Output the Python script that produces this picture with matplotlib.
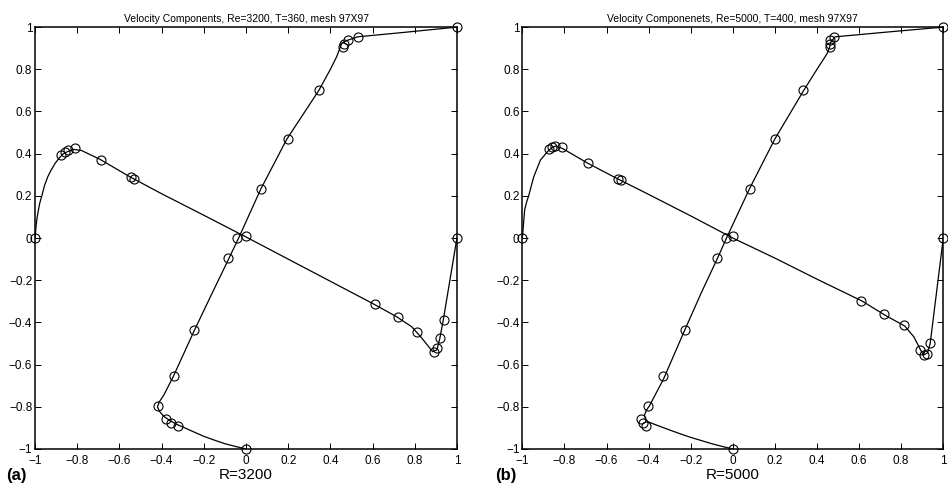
import matplotlib
matplotlib.use("Agg")
import matplotlib.pyplot as plt

plt.rcParams['font.family'] = ['Liberation Sans', 'DejaVu Sans']

# Ghia et al. reference points (centre-line positions mapped to [-1, 1])
ghia_y = [1.0, 0.9532, 0.9376, 0.9218, 0.9062, 0.7032, 0.4688, 0.2344, 0.0,
          -0.0938, -0.4374, -0.6562, -0.7968, -0.8594, -0.875, -0.8906, -1.0]
ghia_u_3200 = [1.0, 0.53236, 0.48296, 0.46547, 0.46101, 0.34682, 0.19791, 0.07156, -0.04272,
               -0.08664, -0.24427, -0.34323, -0.41933, -0.37827, -0.35344, -0.32407, 0.0]
ghia_u_5000 = [1.0, 0.48223, 0.46120, 0.45992, 0.46036, 0.33556, 0.20087, 0.08183, -0.03039,
               -0.07404, -0.22855, -0.33050, -0.40435, -0.43643, -0.42901, -0.41165, 0.0]

ghia_x = [1.0, 0.9376, 0.9218, 0.9062, 0.8906, 0.8126, 0.7188, 0.6094, 0.0,
          -0.5312, -0.5468, -0.6874, -0.8124, -0.8438, -0.8594, -0.875, -1.0]
ghia_v_3200 = [0.0, -0.39017, -0.47425, -0.52357, -0.54053, -0.44307, -0.37401, -0.31184, 0.00999,
               0.28188, 0.29030, 0.37119, 0.42768, 0.41906, 0.40917, 0.39560, 0.0]
ghia_v_5000 = [0.0, -0.49774, -0.55069, -0.55408, -0.52876, -0.41442, -0.36214, -0.30018, 0.00945,
               0.27280, 0.28066, 0.35368, 0.42951, 0.43648, 0.43329, 0.42447, 0.0]

# computed solution
u_3200 = [0.0, -0.05, -0.1, -0.15, -0.2, -0.25, -0.29, -0.32, -0.36, -0.39, -0.41, -0.42, -0.41,
          -0.39, -0.345, -0.246, -0.16, -0.085, -0.035, 0.07, 0.193, 0.346, 0.40, 0.43, 0.445,
          0.455, 0.477, 0.53, 0.75, 1.0]
uy_3200 = [-1.0, -0.988, -0.975, -0.958, -0.94, -0.918, -0.9, -0.887, -0.866, -0.845, -0.822, -0.8,
           -0.775, -0.745, -0.657, -0.44, -0.26, -0.105, 0.0, 0.232, 0.468, 0.701, 0.80, 0.86, 0.90,
           0.925, 0.936, 0.954, 0.975, 1.0]
vx_3200 = [-1.0, -0.995, -0.99, -0.984, -0.978, -0.968, -0.955, -0.94, -0.925, -0.905, -0.885,
           -0.866, -0.845, -0.818, -0.78, -0.692, -0.55, -0.4, -0.2,
           0.0, 0.2, 0.4, 0.6, 0.714, 0.785, 0.83, 0.885, 0.905, 0.919, 0.935, 1.0]
v_3200 = [0.0, 0.06, 0.10, 0.133, 0.165, 0.2, 0.25, 0.29, 0.32, 0.354, 0.38,
          0.40, 0.41, 0.42, 0.415, 0.373, 0.29, 0.21, 0.108,
          0.005, -0.10, -0.205, -0.31, -0.373, -0.42, -0.47, -0.539, -0.53, -0.475, -0.39, 0.0]

u_5000 = [0.0, -0.05, -0.1, -0.15, -0.2, -0.25, -0.3, -0.34, -0.38, -0.405, -0.415, -0.42, -0.41,
          -0.397, -0.33, -0.23, -0.15, -0.07, -0.03, 0.08, 0.2, 0.337, 0.40, 0.448, 0.46, 0.465,
          0.487, 0.75, 1.0]
uy_5000 = [-1.0, -0.988, -0.975, -0.96, -0.945, -0.928, -0.91, -0.895, -0.88, -0.87, -0.86, -0.84,
           -0.815, -0.797, -0.67, -0.44, -0.26, -0.09, 0.0, 0.235, 0.47, 0.70, 0.80, 0.874, 0.905,
           0.93, 0.954, 0.978, 1.0]
vx_5000 = [-1.0, -0.995, -0.989, -0.98, -0.97, -0.946, -0.93, -0.914, -0.88, -0.86, -0.843,
           -0.81, -0.688, -0.542, -0.416, -0.2,
           0.0, 0.2, 0.4, 0.615, 0.722, 0.817, 0.86, 0.905, 0.925, 0.938, 1.0]
v_5000 = [0.0, 0.06, 0.133, 0.17, 0.2, 0.29, 0.33, 0.37, 0.41, 0.428, 0.436,
          0.425, 0.354, 0.278, 0.215, 0.105,
          0.0, -0.095, -0.195, -0.299, -0.365, -0.417, -0.468, -0.555, -0.545, -0.499, 0.0]

titles = ["Velocity Components, Re=3200, T=360, mesh 97X97",
          "Velocity Componenets, Re=5000, T=400, mesh 97X97"]
xlabels = ["R=3200", "R=5000"]
tags = ["(a)", "(b)"]
ticks = [-1, -0.8, -0.6, -0.4, -0.2, 0, 0.2, 0.4, 0.6, 0.8, 1]
tick_labels = ["\u22121", "\u22120.8", "\u22120.6", "\u22120.4", "\u22120.2", "0",
               "0.2", "0.4", "0.6", "0.8", "1"]

fig = plt.figure(figsize=(9.48, 4.9), dpi=100)
ax1 = fig.add_axes([0.037, 0.0837, 0.445, 0.861])
ax2 = fig.add_axes([0.551, 0.0837, 0.444, 0.861])

panels = [
    (ax1, u_3200, uy_3200, vx_3200, v_3200, ghia_u_3200, ghia_v_3200),
    (ax2, u_5000, uy_5000, vx_5000, v_5000, ghia_u_5000, ghia_v_5000),
]

for i, (ax, u, uy, vx, v, gu, gv) in enumerate(panels):
    ax.plot(u, uy, '-', color='black', lw=0.9)
    ax.plot(vx, v, '-', color='black', lw=0.9)
    ax.plot(gu, ghia_y, 'o', mfc='none', mec='black', ms=6.5, mew=0.8, clip_on=False)
    ax.plot(ghia_x, gv, 'o', mfc='none', mec='black', ms=6.5, mew=0.8, clip_on=False)
    ax.set_xlim(-1, 1)
    ax.set_ylim(-1, 1)
    ax.set_xticks(ticks)
    ax.set_yticks(ticks)
    ax.set_xticklabels(tick_labels, fontsize=8.5)
    ax.set_yticklabels(tick_labels, fontsize=8.5)
    ax.tick_params(direction='in', top=True, right=True, length=4, width=0.7)
    ax.tick_params(axis='x', pad=4)
    ax.tick_params(axis='y', pad=2)
    for s in ax.spines.values():
        s.set_linewidth(1.1)
    ax.set_title(titles[i], fontsize=7.5, pad=4)
    ax.set_xlabel(xlabels[i], fontsize=11, labelpad=1)

fig.text(0.006, 0.02, tags[0], fontsize=12, fontweight='bold')
fig.text(0.522, 0.02, tags[1], fontsize=12, fontweight='bold')

fig.savefig("out.png", dpi=100)
